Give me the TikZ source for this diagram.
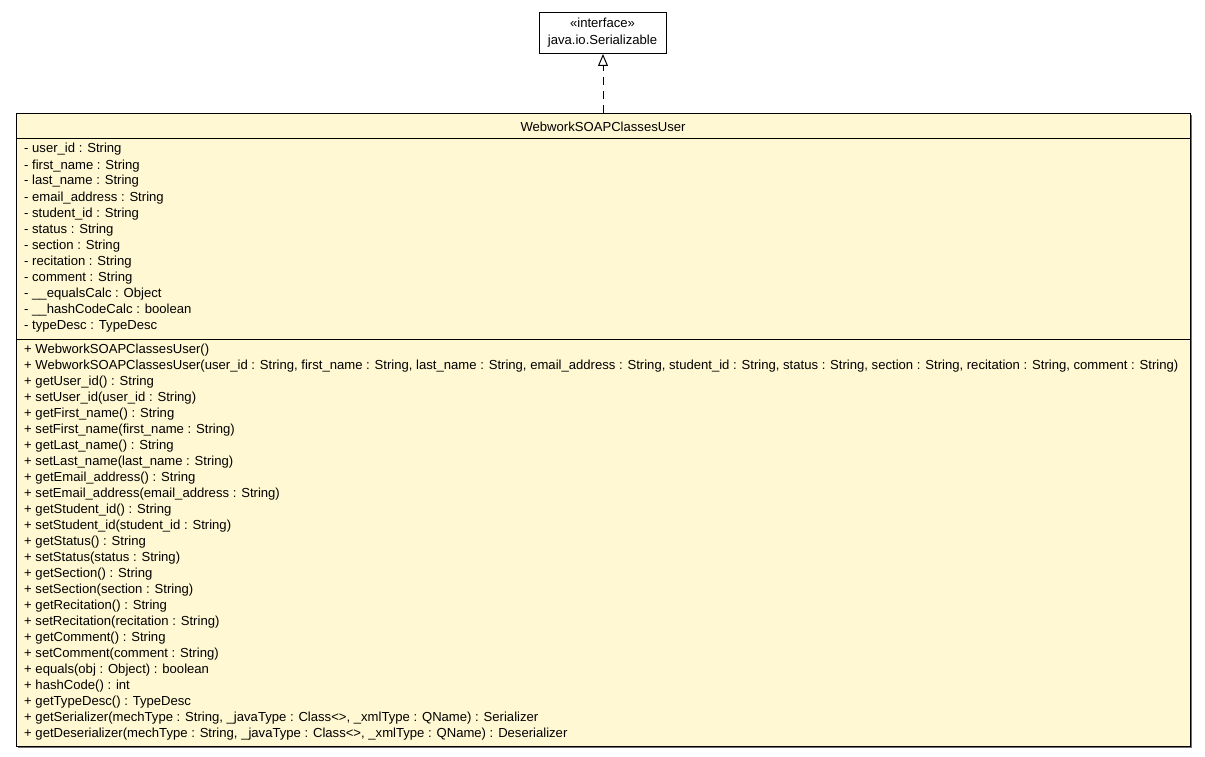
\documentclass[tikz,border=0pt]{standalone}
\usepackage{fontspec}
\setmainfont{Liberation Sans}
\usetikzlibrary{arrows.meta}
\definecolor{clsfill}{HTML}{FFF8D2}
\definecolor{shadowc}{HTML}{707070}
\tikzset{
  box/.style={draw=black, line width=1pt, inner sep=0pt, anchor=north west},
  member/.style={anchor=base west, inner sep=0pt, font=\fontsize{13.1}{15}\selectfont},
  title/.style={inner sep=0pt, font=\fontsize{13.1}{15}\selectfont},
  realize/.style={line width=1pt, dash pattern=on 8pt off 6pt, -{Triangle[open, length=12pt, width=10pt, line width=1pt]}},
}
\begin{document}
\begin{tikzpicture}[x=1pt,y=-1pt]
\useasboundingbox (0,0) rectangle (1205,757);
% interface
\node[box, fill=white, minimum width=127pt, minimum height=41pt] (ifc) at (539,12) {};
\node[title] (ifcst) at (602.5,23) {«interface»};
\node[title] (ifcname) at (602.5,41) {java.io.Serializable};
% class shadow
\fill[shadowc] (18,115) rectangle (1192,748);
\node[box, fill=clsfill, minimum width=1174pt, minimum height=633pt] (cls) at (16,113) {};
\node[title] (clsname) at (603,126.5) {WebworkSOAPClassesUser};
\draw[line width=1pt] (16,139) -- (1190,139);
\draw[line width=1pt] (16,339) -- (1190,339);
\foreach \t [count=\i from 0] in {
 {- user\_id : String},
 {- first\_name : String},
 {- last\_name : String},
 {- email\_address : String},
 {- student\_id : String},
 {- status : String},
 {- section : String},
 {- recitation : String},
 {- comment : String},
 {- \_\_equalsCalc : Object},
 {- \_\_hashCodeCalc : boolean},
 {- typeDesc : TypeDesc}}
 \node[member] (a\i) at (24,{153+16*\i}) {\t};
\foreach \t [count=\i from 0] in {
 {+ WebworkSOAPClassesUser()},
 {+ WebworkSOAPClassesUser(user\_id : String, first\_name : String, last\_name : String, email\_address : String, student\_id : String, status : String, section : String, recitation : String, comment : String)},
 {+ getUser\_id() : String},
 {+ setUser\_id(user\_id : String)},
 {+ getFirst\_name() : String},
 {+ setFirst\_name(first\_name : String)},
 {+ getLast\_name() : String},
 {+ setLast\_name(last\_name : String)},
 {+ getEmail\_address() : String},
 {+ setEmail\_address(email\_address : String)},
 {+ getStudent\_id() : String},
 {+ setStudent\_id(student\_id : String)},
 {+ getStatus() : String},
 {+ setStatus(status : String)},
 {+ getSection() : String},
 {+ setSection(section : String)},
 {+ getRecitation() : String},
 {+ setRecitation(recitation : String)},
 {+ getComment() : String},
 {+ setComment(comment : String)},
 {+ equals(obj : Object) : boolean},
 {+ hashCode() : int},
 {+ getTypeDesc() : TypeDesc},
 {+ getSerializer(mechType : String, \_javaType : Class<>, \_xmlType : QName) : Serializer},
 {+ getDeserializer(mechType : String, \_javaType : Class<>, \_xmlType : QName) : Deserializer}}
 \node[member] (m\i) at (24,{353+16*\i}) {\t};
% realization
\draw[realize] (cls.north -| ifc.south) coordinate (rs) -- (ifc.south);
\end{tikzpicture}
\end{document}
